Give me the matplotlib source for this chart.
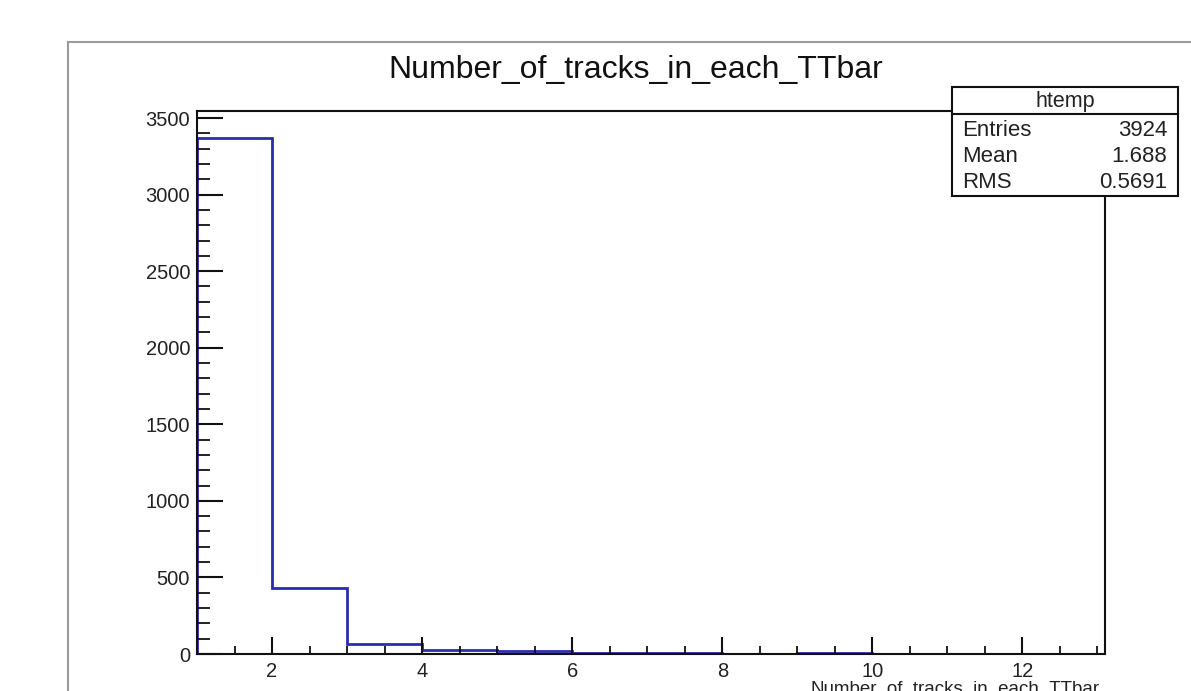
import numpy as np
import matplotlib.pyplot as plt
from matplotlib.patches import Rectangle
from matplotlib.lines import Line2D
from matplotlib.ticker import MultipleLocator

plt.rcParams['font.family'] = ['Liberation Sans', 'DejaVu Sans']

# histogram contents
edges = [1, 2, 3, 4, 5, 6, 7, 8, 9, 10]
counts = [3370, 430, 68, 24, 22, 7, 6, 0, 6]

stat_names = ['Entries', 'Mean', 'RMS']
stat_values = ['3924', '1.688', '0.5691']

W, H = 1191, 691
fig = plt.figure(figsize=(W / 100, H / 100), dpi=100)
fig.patch.set_facecolor('white')

def fx(px):
    return px / W

def fy(py):
    return 1 - py / H

# canvas frame (gray), running off the right and bottom
fig.add_artist(Line2D([fx(68), fx(68)], [fy(42), -0.05], color='#9a9a9a', lw=1.5))
fig.add_artist(Line2D([fx(68), 1.05], [fy(42), fy(42)], color='#9a9a9a', lw=1.5))

ax = fig.add_axes([fx(197), fy(654), fx(1105) - fx(197), fy(111) - fy(654)])
ax.stairs(counts, edges, color='#2c2cb0', lw=2, baseline=0)
ax.set_xlim(1, 13.1)
ax.set_ylim(0, 3546)

ax.xaxis.set_major_locator(MultipleLocator(2))
ax.xaxis.set_minor_locator(MultipleLocator(0.5))
ax.yaxis.set_major_locator(MultipleLocator(500))
ax.yaxis.set_minor_locator(MultipleLocator(100))
ax.tick_params(axis='both', which='both', direction='in', colors='#111111',
               labelcolor='#222222', labelsize=14.5)
ax.tick_params(axis='x', which='major', length=12, width=1.5, pad=6)
ax.tick_params(axis='x', which='minor', length=6, width=1.3)
ax.tick_params(axis='y', which='major', length=19, width=1.5, pad=5)
ax.tick_params(axis='y', which='minor', length=9.5, width=1.3)
for sp in ax.spines.values():
    sp.set_linewidth(1.5)
    sp.set_color('#111111')

fig.text(fx(636), fy(70), 'Number_of_tracks_in_each_TTbar', ha='center', va='center',
         fontsize=23, color='#111111')
fig.text(fx(1100), fy(681), 'Number_of_tracks_in_each_TTbar', ha='right', va='top',
         fontsize=13.5, color='#222222')

# stats box
bx0, by0, bx1, by1 = 952, 87, 1178, 196
fig.add_artist(Rectangle((fx(bx0), fy(by1)), fx(bx1) - fx(bx0), fy(by0) - fy(by1),
                         transform=fig.transFigure, facecolor='white',
                         edgecolor='#111111', lw=1.5, zorder=10))
fig.add_artist(Line2D([fx(bx0), fx(bx1)], [fy(114), fy(114)], color='#111111',
                      lw=1.5, zorder=11))
fig.text(fx((bx0 + bx1) / 2), fy(101), 'htemp', ha='center', va='center',
         fontsize=15.5, color='#222222', zorder=12)
for i, (n, v) in enumerate(zip(stat_names, stat_values)):
    yy = fy(130 + i * 26)
    fig.text(fx(962), yy, n, ha='left', va='center', fontsize=16, color='#222222', zorder=12)
    fig.text(fx(1167), yy, v, ha='right', va='center', fontsize=16, color='#222222', zorder=12)

fig.savefig('out.png', dpi=100)
